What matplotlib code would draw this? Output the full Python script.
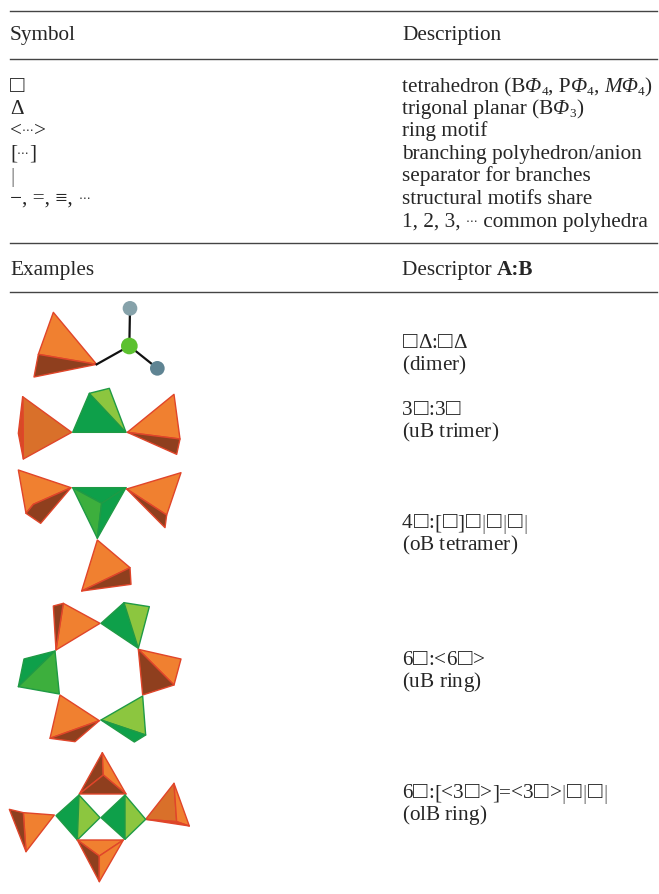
import matplotlib
matplotlib.use("Agg")
import matplotlib.pyplot as plt
from matplotlib.patches import Polygon, Circle

plt.rcParams['font.family'] = ['Liberation Serif', 'DejaVu Sans']

TEXT_COLOR = "#262626"
SIZE = 15.3

# plain table text, (text, baseline y)
HEADERS_LEFT = [("Symbol", 40), ("Examples", 275)]
HEADERS_RIGHT = [("Description", 40)]
DESCRIPTIONS = [
    ("ring motif", 136),
    ("branching polyhedron/anion", 159),
    ("separator for branches", 181),
    ("structural motifs share", 204),
]
DESCRIPTOR_LINES = [
    ("□Δ:□Δ", 348), ("(dimer)", 370),
    ("3□:3□", 415), ("(uB trimer)", 437),
    ("4□:[□]□|□|□|", 528), ("(oB tetramer)", 550),
    ("6□:<6□>", 665), ("(uB ring)", 687),
    ("6□:[<3□>]=<3□>|□|□|", 798), ("(olB ring)", 820),
]
RULES = [11, 59, 243, 292]

# colours of the faces
OL = "#f08030"
OM = "#d9702a"
OD = "#8f3f1e"
OR = "#d84a25"
GD = "#0ea04a"
GM = "#3daf3d"
GL = "#8cc63f"
EDGE_O = "#e0452a"
EDGE_G = "#1f9a45"

# faces, (colour, points) in 3x crop pixels
TOP_FACES = [
    (OL, [(160, 52), (290, 208), (115, 178)]),
    (OD, [(115, 178), (290, 208), (102, 246)]),
    (OM, [(68, 305), (215, 412), (70, 492)]),
    (OR, [(68, 305), (70, 492), (55, 415)]),
    (GD, [(268, 295), (378, 412), (218, 412)]),
    (GL, [(268, 295), (328, 280), (378, 412)]),
    (OL, [(522, 298), (540, 432), (382, 412)]),
    (OD, [(382, 412), (540, 432), (530, 478)]),
    (OL, [(55, 525), (213, 578), (100, 628), (78, 655)]),
    (OD, [(213, 578), (122, 685), (78, 655), (100, 628)]),
    (GD, [(218, 578), (378, 578), (305, 625)]),
    (GM, [(218, 578), (305, 625), (292, 730)]),
    (GD, [(378, 578), (305, 625), (292, 730)]),
    (OL, [(543, 533), (380, 582), (500, 660)]),
    (OD, [(380, 582), (500, 660), (495, 698)]),
    (OL, [(292, 735), (390, 818), (245, 888)]),
    (OD, [(390, 818), (393, 868), (245, 888)]),
]
BOTTOM_FACES = [
    (OL, [(190, 40), (300, 100), (168, 180)]),
    (OD, [(160, 48), (190, 40), (168, 180)]),
    (GD, [(372, 38), (303, 100), (415, 175)]),
    (GL, [(372, 38), (448, 50), (415, 175)]),
    (OL, [(415, 178), (543, 207), (522, 285)]),
    (OD, [(415, 178), (522, 285), (428, 315)]),
    (GL, [(428, 318), (437, 435), (303, 390)]),
    (GD, [(303, 390), (437, 435), (403, 456)]),
    (OL, [(180, 315), (298, 392), (150, 445)]),
    (OD, [(298, 392), (150, 445), (225, 455)]),
    (GD, [(165, 183), (72, 207), (55, 290)]),
    (GM, [(165, 183), (178, 312), (55, 290)]),
    (OD, [(307, 488), (310, 555), (238, 612)]),
    (OL, [(307, 488), (378, 612), (310, 555)]),
    (OD, [(238, 612), (310, 555), (378, 612)]),
    (OL, [(70, 668), (163, 675), (78, 785)]),
    (OD, [(28, 658), (70, 668), (78, 785)]),
    (OM, [(522, 580), (437, 688), (530, 695)]),
    (OL, [(522, 580), (568, 708), (530, 695)]),
    (OR, [(437, 688), (568, 708), (530, 695)]),
    (GD, [(237, 615), (232, 750), (168, 677)]),
    (GL, [(237, 615), (300, 683), (232, 750)]),
    (GD, [(375, 615), (375, 748), (303, 683)]),
    (GL, [(375, 615), (437, 688), (375, 748)]),
    (OL, [(232, 750), (370, 750), (298, 798)]),
    (OD, [(232, 750), (298, 798), (298, 875)]),
    (OL, [(370, 750), (298, 798), (298, 875)]),
]
BONDS = [((290, 208), (388, 153)), ((388, 153), (390, 40)), ((388, 153), (472, 220))]
BALLS = [((390, 40), 22, "#86a2aa"), ((472, 220), 22, "#5f8493"), ((388, 153), 25, "#5cc12f")]


def crop_to_page(points, y0):
    """3x crop pixels to page pixels"""
    return [(x / 3, y0 + y / 3) for x, y in points]


def draw_faces(ax, faces, y0):
    for color, points in faces:
        edge = EDGE_G if color in (GD, GM, GL) else EDGE_O
        ax.add_patch(Polygon(crop_to_page(points, y0), closed=True, facecolor=color,
                             edgecolor=edge, linewidth=1.0, joinstyle="round"))


def put(ax, x, y, text, size=SIZE, dy=0, **kw):
    """Draw one run of text and give back the x where the next one starts"""
    renderer = ax.figure.canvas.get_renderer()
    kw.setdefault("color", TEXT_COLOR)
    ax.text(x, y + dy, text, fontsize=size, **kw)
    probe = ax.text(0, 0, text + "|", fontsize=size, **{k: v for k, v in kw.items() if k != "color"})
    bar = ax.text(0, 0, "|", fontsize=size, **{k: v for k, v in kw.items() if k != "color"})
    width = probe.get_window_extent(renderer).width - bar.get_window_extent(renderer).width
    probe.remove()
    bar.remove()
    return x + width


def put_runs(ax, x, y, runs):
    """runs are (text, style): r roman, i italic, b bold, s subscript, d small dots"""
    for text, style in runs:
        if style == "r":
            x = put(ax, x, y, text)
        elif style == "i":
            x = put(ax, x, y, text, style="italic")
        elif style == "b":
            x = put(ax, x, y, text, fontweight="bold")
        elif style == "s":
            x = put(ax, x, y, text, size=SIZE * 0.62, dy=3)
        elif style == "d":
            x = put(ax, x, y, text, size=SIZE * 0.55, family="DejaVu Sans", dy=-2)
    return x


def put_descriptor(ax, x, y, text):
    """Descriptor line, boxes and separators get their own room"""
    for char in text:
        if char == "□":
            x = put(ax, x + 0.8, y, char, size=SIZE * 1.12) + 0.8
        elif char == "|":
            x = put(ax, x + 0.4, y + 1, char, color="#666666") + 0.4
        else:
            x = put(ax, x, y, char)


def main():
    fig = plt.figure(figsize=(6.59, 8.94), dpi=100)
    ax = fig.add_axes([0, 0, 1, 1])
    ax.set_xlim(0, 659)
    ax.set_ylim(894, 0)
    ax.axis("off")

    for y in RULES:
        ax.plot([10, 657], [y, y], color="#444444", linewidth=1.0)

    for label, y in HEADERS_LEFT:
        put(ax, 10, y, label)
    for label, y in HEADERS_RIGHT + DESCRIPTIONS:
        put(ax, 402, y, label)
    put_runs(ax, 402, 275, [("Descriptor ", "r"), ("A:B", "b")])

    put(ax, 10, 92, "□", size=SIZE * 1.12)
    put(ax, 10, 114, "Δ")
    put_runs(ax, 10, 136, [("<", "r"), ("⋯", "d"), (">", "r")])
    put_runs(ax, 10, 159, [("[", "r"), ("⋯", "d"), ("]", "r")])
    put(ax, 10, 182, "|", color="#666666")
    put_runs(ax, 10, 204, [("−, =, ≡, ", "r"), ("⋯", "d")])

    put_runs(ax, 402, 92, [("tetrahedron (B", "r"), ("Φ", "i"), ("4", "s"), (", P", "r"), ("Φ", "i"),
                           ("4", "s"), (", ", "r"), ("MΦ", "i"), ("4", "s"), (")", "r")])
    put_runs(ax, 402, 114, [("trigonal planar (B", "r"), ("Φ", "i"), ("3", "s"), (")", "r")])
    put_runs(ax, 402, 227, [("1, 2, 3, ", "r"), ("⋯", "d"), (" common polyhedra", "r")])

    for label, y in DESCRIPTOR_LINES:
        put_descriptor(ax, 402, y, label)

    for start, end in BONDS:
        (x0, y0), (x1, y1) = crop_to_page([start, end], 295)
        ax.plot([x0, x1], [y0, y1], color="#111111", linewidth=1.6, zorder=3)
    for center, radius, color in BALLS:
        ax.add_patch(Circle(crop_to_page([center], 295)[0], radius / 3, facecolor=color,
                            edgecolor="none", zorder=4))
    draw_faces(ax, TOP_FACES, 295)
    draw_faces(ax, BOTTOM_FACES, 590)

    fig.savefig("out.png", dpi=100)


if __name__ == "__main__":
    main()
